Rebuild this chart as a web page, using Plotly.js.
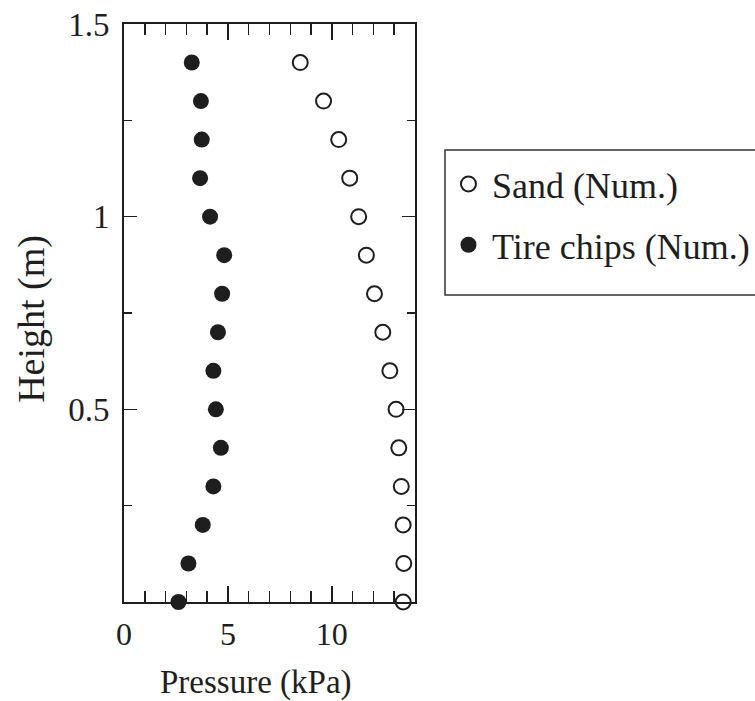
<!DOCTYPE html>
<html>
<head>
<meta charset="utf-8">
<script src="https://cdn.plot.ly/plotly-3.0.1.min.js"></script>
<style>
  html, body { margin: 0; padding: 0; background: #ffffff; }
  #chart { width: 755px; height: 701px; }
</style>
</head>
<body>
<div id="chart"></div>
<script>
// Height above the base (m)
const heights = [0, 0.1, 0.2, 0.3, 0.4, 0.5, 0.6, 0.7, 0.8, 0.9, 1.0, 1.1, 1.2, 1.3, 1.4];
// Lateral pressure (kPa), numerical results
const sandPressure = [13.43, 13.46, 13.43, 13.34, 13.22, 13.09, 12.79, 12.45, 12.05, 11.66, 11.29, 10.86, 10.33, 9.60, 8.48];
const tirePressure = [2.62, 3.10, 3.79, 4.30, 4.66, 4.42, 4.30, 4.52, 4.72, 4.82, 4.14, 3.66, 3.74, 3.70, 3.26];

const seriesNames = ['Sand (Num.)', 'Tire chips (Num.)'];
const yTickVals = [0.5, 1, 1.5];
const yTickText = ['0.5', '1', '1.5'];
const xTickVals = [0, 5, 10];
const xTickText = ['0', '5', '10'];

const serif = 'Liberation Serif';
const ink = '#1e1e1e';

const traces = [
  {
    x: sandPressure, y: heights, name: seriesNames[0],
    type: 'scatter', mode: 'markers', cliponaxis: false,
    legendgroup: 'a',
    marker: { symbol: 'circle', size: 15, color: 'rgba(255,255,255,0)',
              line: { color: ink, width: 2 } }
  },
  {
    x: tirePressure, y: heights, name: seriesNames[1],
    type: 'scatter', mode: 'markers', cliponaxis: false,
    legendgroup: 'b',
    marker: { symbol: 'circle', size: 16, color: ink, line: { width: 0 } }
  }
];

const layout = {
  width: 755, height: 701,
  margin: { l: 124, r: 340, t: 24, b: 99, autoexpand: false },
  paper_bgcolor: '#ffffff', plot_bgcolor: '#ffffff',
  font: { family: serif, color: ink },
  showlegend: true,
  legend: {
    x: 1.103, xanchor: 'left', y: 0.775, yanchor: 'top',
    bgcolor: 'rgba(0,0,0,0)', borderwidth: 0,
    font: { family: serif, size: 36, color: ink },
    tracegroupgap: 11, itemwidth: 37
  },
  xaxis: {
    range: [0, 14], tickmode: 'array', tickvals: xTickVals, ticktext: xTickText,
    ticks: 'inside', ticklen: 16, tickwidth: 1.5, tickcolor: ink,
    minor: { dtick: 1, tick0: 0, ticks: 'inside', ticklen: 11, tickwidth: 1.5, tickcolor: ink, showgrid: false },
    showline: true, linewidth: 2, linecolor: ink, mirror: 'ticks',
    showgrid: false, zeroline: false,
    tickfont: { family: serif, size: 32, color: ink },
    ticklabelstandoff: 3
  },
  yaxis: {
    range: [0, 1.5], tickmode: 'array', tickvals: yTickVals, ticktext: yTickText,
    ticks: 'inside', ticklen: 13, tickwidth: 1.5, tickcolor: ink,
    minor: { dtick: 0.25, tick0: 0, ticks: 'inside', ticklen: 8, tickwidth: 1.5, tickcolor: ink, showgrid: false },
    showline: true, linewidth: 2, linecolor: ink, mirror: 'ticks',
    showgrid: false, zeroline: false,
    tickfont: { family: serif, size: 33, color: ink },
    ticklabelstandoff: 6
  },
  annotations: [
    { text: 'Pressure (kPa)', xref: 'paper', yref: 'paper', x: 0.4536, y: -0.14,
      xanchor: 'center', yanchor: 'middle', showarrow: false,
      font: { family: serif, size: 33, color: ink } },
    { text: 'Height (m)', xref: 'paper', yref: 'paper', x: -0.316, y: 0.49,
      xanchor: 'center', yanchor: 'middle', textangle: -90, showarrow: false,
      font: { family: serif, size: 38, color: ink } }
  ],
  shapes: [
    { type: 'rect', xref: 'paper', yref: 'paper', x0: 1.1031, x1: 2.2, y0: 0.531, y1: 0.782,
      line: { color: '#333333', width: 1.5 }, fillcolor: 'rgba(0,0,0,0)', layer: 'above' }
  ]
};

Plotly.newPlot('chart', traces, layout, { displayModeBar: false, staticPlot: true });
</script>
</body>
</html>
